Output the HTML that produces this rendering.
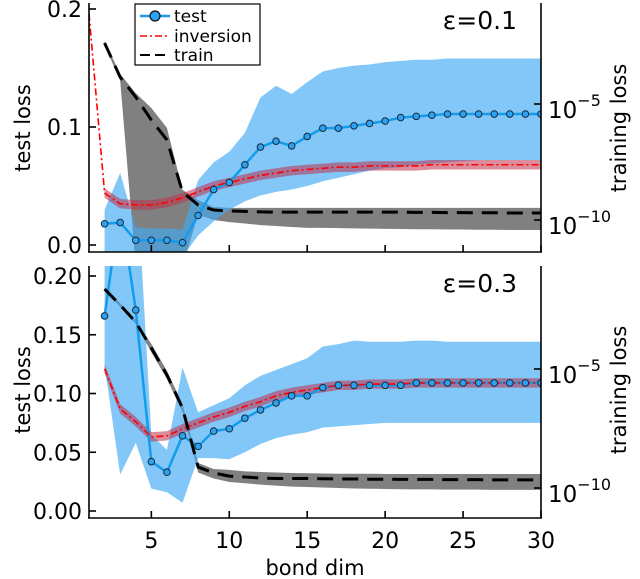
<!DOCTYPE html>
<html><head><meta charset="utf-8">
<style>
body{margin:0;background:#fff;}
svg{display:block;font-family:"DejaVu Sans","Liberation Sans",sans-serif;}
</style></head>
<body>
<svg id="chart" width="640" height="579" viewBox="0 0 640 579">
<defs>
<clipPath id="clipTop"><rect x="89" y="3" width="452" height="249"/></clipPath>
<clipPath id="clipBot"><rect x="89" y="266" width="452" height="251"/></clipPath>
</defs>
<g id="gTop"></g>
<g id="gBot"></g>
</svg>
<script>
// ---- data ----
const dims = [2,3,4,5,6,7,8,9,10,11,12,13,14,15,16,17,18,19,20,21,22,23,24,25,26,27,28,29,30];
const invDims = [1,2,3,4,5,6,7,8,9,10,11,12,13,14,15,16,17,18,19,20,21,22,23,24,25,26,27,28,29,30];

// top panel (eps=0.1)
const testTop = [0.018,0.019,0.004,0.004,0.004,0.002,0.025,0.047,0.053,0.068,0.083,0.088,0.084,0.092,0.099,0.099,0.101,0.103,0.105,0.108,0.109,0.110,0.111,0.111,0.111,0.111,0.111,0.111,0.111];
const testTopHi = [0.030,0.061,0.015,0.014,0.014,0.013,0.055,0.070,0.079,0.095,0.125,0.135,0.128,0.138,0.147,0.150,0.152,0.153,0.155,0.156,0.157,0.157,0.158,0.158,0.158,0.158,0.158,0.158,0.158];
const testTopLo = [-0.01,-0.01,-0.01,-0.01,-0.01,-0.01,0.008,0.020,0.030,0.037,0.042,0.045,0.047,0.050,0.054,0.057,0.060,0.063,0.065,0.066,0.068,0.069,0.070,0.071,0.072,0.072,0.072,0.072,0.072];
const invTop = [0.196,0.044,0.035,0.034,0.034,0.036,0.040,0.045,0.050,0.053,0.056,0.059,0.061,0.063,0.064,0.065,0.066,0.066,0.067,0.067,0.067,0.067,0.068,0.068,0.068,0.068,0.068,0.068,0.068,0.068];
const trainTop = [-2.37,-3.84,-4.70,-5.69,-6.55,-8.79,-9.35,-9.57,-9.61,-9.63,-9.65,-9.66,-9.66,-9.66,-9.66,-9.66,-9.66,-9.66,-9.66,-9.66,-9.67,-9.67,-9.68,-9.68,-9.69,-9.69,-9.70,-9.70,-9.70];
const trainTopHi = [-2.28,-3.71,-4.53,-5.17,-6.03,-8.70,-9.14,-9.44,-9.48,-9.48,-9.48,-9.48,-9.48,-9.48,-9.48,-9.48,-9.48,-9.48,-9.48,-9.48,-9.48,-9.48,-9.48,-9.48,-9.48,-9.48,-9.48,-9.48,-9.48];
const trainTopLo = [-2.46,-4.00,-12,-12,-12,-12,-9.78,-10.00,-10.09,-10.15,-10.22,-10.26,-10.30,-10.34,-10.34,-10.35,-10.36,-10.37,-10.38,-10.39,-10.40,-10.40,-10.41,-10.41,-10.42,-10.42,-10.43,-10.43,-10.43];

// bottom panel (eps=0.3)
const testBot = [0.166,0.26,0.171,0.042,0.033,0.064,0.055,0.068,0.070,0.079,0.086,0.092,0.098,0.098,0.105,0.107,0.107,0.107,0.107,0.107,0.109,0.109,0.109,0.109,0.109,0.109,0.109,0.109,0.109];
const testBotHi = [0.30,0.30,0.30,0.065,0.052,0.122,0.084,0.090,0.096,0.107,0.115,0.120,0.125,0.130,0.140,0.142,0.145,0.144,0.144,0.144,0.145,0.145,0.144,0.144,0.144,0.144,0.144,0.144,0.144];
const testBotLo = [0.124,0.031,0.058,0.019,0.016,0.007,0.045,0.045,0.044,0.050,0.057,0.062,0.065,0.067,0.071,0.072,0.073,0.074,0.075,0.075,0.075,0.075,0.075,0.075,0.075,0.075,0.075,0.075,0.075];
const invBot = [0.121,0.087,0.076,0.063,0.064,0.070,0.075,0.080,0.084,0.089,0.093,0.098,0.101,0.103,0.105,0.107,0.107,0.108,0.108,0.108,0.109,0.109,0.109,0.109,0.109,0.109,0.109,0.109,0.109];
const trainBot = [-1.64,-2.31,-3.03,-4.12,-5.25,-6.64,-9.12,-9.37,-9.50,-9.54,-9.58,-9.60,-9.60,-9.60,-9.61,-9.62,-9.62,-9.63,-9.63,-9.64,-9.64,-9.64,-9.65,-9.65,-9.65,-9.66,-9.66,-9.66,-9.66];
const trainBotHi = [-1.56,-2.23,-2.95,-3.95,-5.08,-6.47,-8.95,-9.20,-9.24,-9.30,-9.33,-9.35,-9.37,-9.38,-9.39,-9.40,-9.40,-9.40,-9.41,-9.41,-9.41,-9.41,-9.41,-9.41,-9.41,-9.41,-9.41,-9.41,-9.41];
const trainBotLo = [-1.72,-2.39,-3.11,-4.29,-5.42,-6.81,-9.35,-9.60,-9.75,-9.80,-9.86,-9.90,-9.94,-9.96,-9.98,-10.00,-10.02,-10.03,-10.04,-10.05,-10.06,-10.06,-10.07,-10.07,-10.07,-10.08,-10.08,-10.08,-10.08];

const xTicks = [5,10,15,20,25,30];
const yTicksTop = [0.0,0.1,0.2];
const yTickLabelsTop = ["0.0","0.1","0.2"];
const yTicksBot = [0.00,0.05,0.10,0.15,0.20];
const yTickLabelsBot = ["0.00","0.05","0.10","0.15","0.20"];
const rTicks = [-5,-10];

// ---- drawing ----
const NS="http://www.w3.org/2000/svg";
function mk(tag, attrs, parent){const e=document.createElementNS(NS,tag);for(const k in attrs)e.setAttribute(k,attrs[k]);parent.appendChild(e);return e;}
const X = d => 89 + (d-1)*(452/29);

function drawPanel(g, clipId, P){
  const YL=P.YL, YR=P.YR;
  const c = mk('g',{'clip-path':'url(#'+clipId+')'},g);
  const band=(xs,hi,lo,Y,fill,op,name)=>{
    let d='M'+xs.map((x,i)=>X(x)+','+Y(hi[i])).join('L');
    for(let i=xs.length-1;i>=0;i--) d+='L'+X(xs[i])+','+Y(lo[i]);
    const p=mk('path',{d:d+'Z',fill:fill,'fill-opacity':op},c);
    
    
  };
  const line=(xs,vs,Y,stroke,w,dash,name)=>{
    const p=mk('path',{d:'M'+xs.map((x,i)=>X(x)+','+Y(vs[i])).join('L'),fill:'none',stroke:stroke,'stroke-width':w,'stroke-dasharray':dash,'stroke-linejoin':'round'},c);
    
    
  };
  band(dims,P.trainHi,P.trainLo,YR,'#808080',1,'train-band');
  band(dims,P.testHi,P.testLo,YL,'#3fa9f5',0.65,'test-band');
  const invHi=P.inv.map(v=>v+0.004), invLo=P.inv.map(v=>v-0.004);
  band(invDims.slice(1),invHi.slice(P.invOff),invLo.slice(P.invOff),YL,'#c0304a',0.55,'inversion-band');
  line(dims,P.test,YL,'#139cec',2.5,'none','test-line');
  line(P.invX,P.inv,YL,'#ff0000',1.6,'7,3,2,3','inversion-line');
  line(dims,P.train,YR,'#000',3,'16,9','train-line');
  dims.forEach((d,i)=>{
    const m=mk('circle',{cx:X(d),cy:YL(P.test[i]),r:3.3,fill:'#2ba3f2',stroke:'#1a2a3a','stroke-width':1},c);
    
    
  });
  // axes
  const ax=mk('g',{stroke:'#000','stroke-width':1.6,fill:'none'},g);
  mk('line',{x1:89,y1:P.top,x2:89,y2:P.bot},ax);
  mk('line',{x1:88,y1:P.bot,x2:542,y2:P.bot},ax);
  mk('line',{x1:541,y1:P.top,x2:541,y2:P.bot},ax);
  xTicks.forEach(t=>mk('line',{x1:X(t),y1:P.bot,x2:X(t),y2:P.bot-7},ax));
  P.yt.forEach((t,i)=>{
    mk('line',{x1:89,y1:YL(t),x2:96,y2:YL(t)},ax);
    const tx=mk('text',{x:82,y:YL(t)+8,'text-anchor':'end','font-size':22,fill:'#000',stroke:'none'},g);
    tx.textContent=P.ytl[i];
    
    
  });
  rTicks.forEach(t=>{
    mk('line',{x1:541,y1:YR(t),x2:534,y2:YR(t)},ax);
    const tx=mk('text',{x:548,y:YR(t)+14,'font-size':23,fill:'#000'},g);
    tx.textContent='10';
    const sp=mk('tspan',{dy:-12,'font-size':16},tx);
    sp.textContent='\u2212'+(-t);
    
    
  });
  const yl=mk('text',{transform:'translate(30,'+P.mid+') rotate(-90)','text-anchor':'middle','font-size':21,fill:'#000'},g);
  yl.textContent='test loss';
  
  
  const yr=mk('text',{transform:'translate(626,'+P.mid+') rotate(-90)','text-anchor':'middle','font-size':21,fill:'#000'},g);
  yr.textContent='training loss';
  
  
  const ep=mk('text',{x:517,y:P.top+26,'text-anchor':'end','font-size':25,fill:'#000'},g);
  ep.textContent=P.eps;
  
  
}

drawPanel(document.getElementById('gTop'),'clipTop',{
  YL:v=>245-v*1180, YR:l=>104-(l+5)*23.2, top:3, bot:252, mid:128,
  test:testTop,testHi:testTopHi,testLo:testTopLo,inv:invTop,invX:invDims,invOff:1,
  train:trainTop,trainHi:trainTopHi,trainLo:trainTopLo,yt:yTicksTop,ytl:yTickLabelsTop,eps:'ε=0.1'});
drawPanel(document.getElementById('gBot'),'clipBot',{
  YL:v=>511-v*1175, YR:l=>369-(l+5)*23.8, top:266, bot:518, mid:390,
  test:testBot,testHi:testBotHi,testLo:testBotLo,inv:invBot,invX:dims,invOff:0,
  train:trainBot,trainHi:trainBotHi,trainLo:trainBotLo,yt:yTicksBot,ytl:yTickLabelsBot,eps:'ε=0.3'});

// x tick labels (bottom)
const gb=document.getElementById('gBot');
xTicks.forEach(t=>{
  const tx=mk('text',{x:X(t),y:548,'text-anchor':'middle','font-size':22,fill:'#000'},gb);
  tx.textContent=String(t);
  
  
});
const xl=mk('text',{x:315,y:575,'text-anchor':'middle','font-size':21,fill:'#000'},gb);
xl.textContent='bond dim';



// legend
const gt=document.getElementById('gTop');
const lg=mk('g',{},gt);


mk('rect',{x:135,y:4,width:125,height:61,fill:'#fff',stroke:'#000','stroke-width':1.2},lg);
mk('line',{x1:140,y1:16,x2:170,y2:16,stroke:'#139cec','stroke-width':2.5},lg);
mk('circle',{cx:155,cy:16,r:5,fill:'#2ba3f2',stroke:'#111','stroke-width':1.2},lg);
mk('line',{x1:140,y1:36,x2:170,y2:36,stroke:'#ff0000','stroke-width':1.6,'stroke-dasharray':'7,3,2,3'},lg);
mk('line',{x1:140,y1:55,x2:170,y2:55,stroke:'#000','stroke-width':2,'stroke-dasharray':'10,5'},lg);
[['test',22],['inversion',42],['train',61]].forEach(([s,y])=>{
  const t=mk('text',{x:174,y:y,'font-size':17,fill:'#000'},lg);
  t.textContent=s;
  
  
});
</script>
</body></html>
